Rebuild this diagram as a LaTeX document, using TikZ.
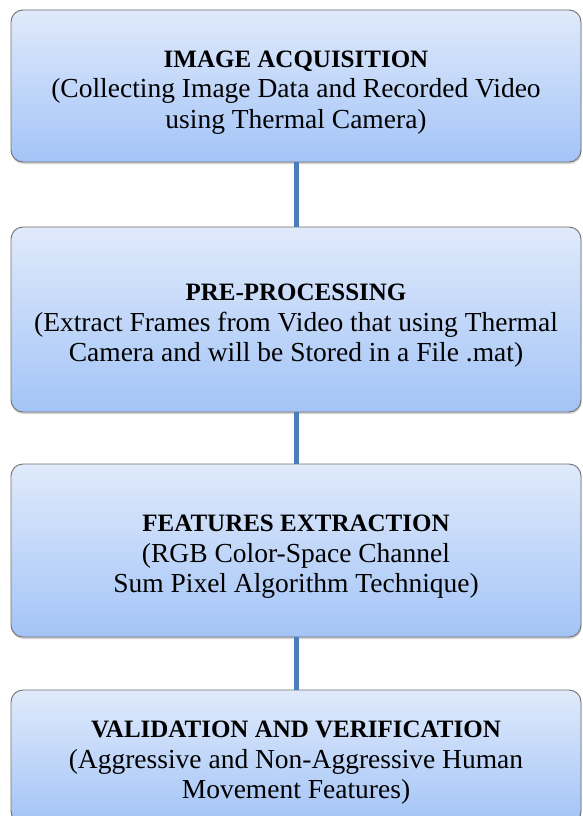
\documentclass[tikz,border=0pt]{standalone}
\usepackage{fontspec}
\setmainfont{Liberation Serif}
\usetikzlibrary{shadows}
\definecolor{boxtop}{RGB}{224,234,251}
\definecolor{boxbot}{RGB}{163,196,247}
\definecolor{boxline}{RGB}{112,112,112}
\definecolor{linkblue}{RGB}{74,126,187}
\newcommand{\stagetitle}[1]{\rule{0pt}{29pt}{\fontsize{25}{30.5}\selectfont\bfseries #1}}
\begin{document}
\begin{tikzpicture}[x=1pt,y=-1pt,
	stage/.style={draw=boxline,line width=0.9pt,rounded corners=12pt,top color=boxtop,bottom color=boxbot,
		minimum width=570pt,align=center,inner sep=0pt,font=\fontsize{27.5}{30.5}\selectfont,
		drop shadow={opacity=0.35,shadow xshift=0.6pt,shadow yshift=-2pt}},
	link/.style={linkblue,line width=5pt}]
		\useasboundingbox (0,0) rectangle (582,816);
		% the four stages
		\node[stage,minimum height=152pt] (acq) at (296,86) {\stagetitle{IMAGE ACQUISITION}\\(Collecting Image Data and Recorded Video\\using Thermal Camera)};
		\node[stage,minimum height=185pt] (pre) at (296,319.5) {\stagetitle{PRE-PROCESSING}\\(Extract Frames from Video that using Thermal\\Camera and will be Stored in a File .mat)};
		\node[stage,minimum height=173pt] (feat) at (296,550.5) {\stagetitle{FEATURES EXTRACTION}\\(RGB Color-Space Channel\\Sum Pixel Algorithm Technique)};
		\node[stage,minimum height=133pt] (valid) at (296,756.5) {\stagetitle{VALIDATION AND VERIFICATION}\\(Aggressive and Non-Aggressive Human\\Movement Features)};
		% connectors
		\draw[link] (acq) -- (pre);
		\draw[link] (pre) -- (feat);
		\draw[link] (feat) -- (valid);
	\end{tikzpicture}
\end{document}
